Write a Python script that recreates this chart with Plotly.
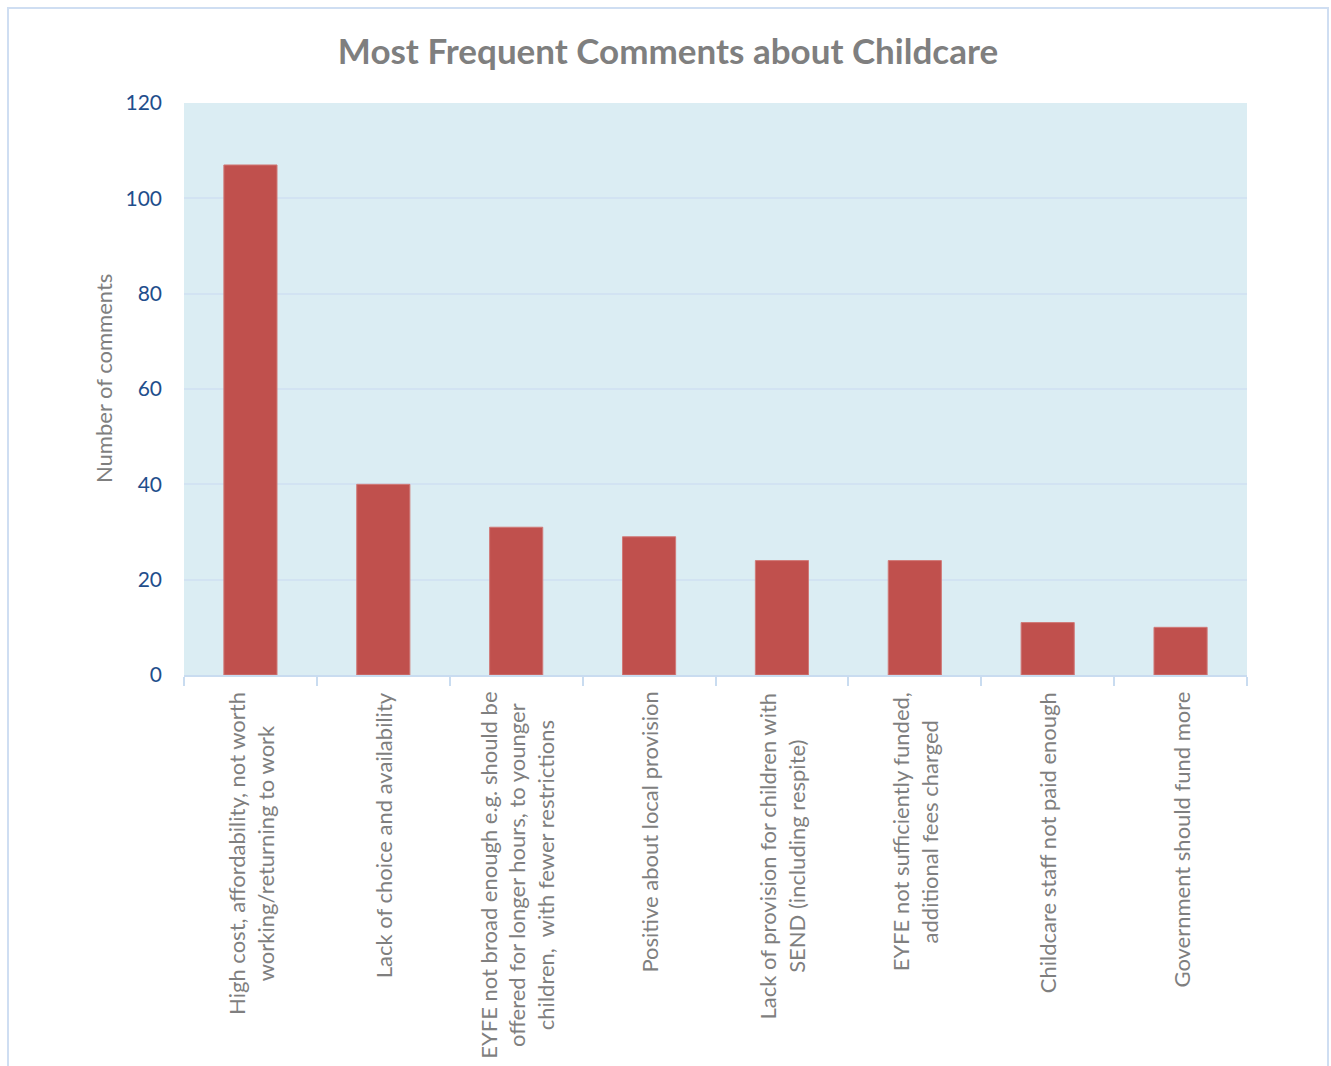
import plotly.graph_objects as go

categories = [
    "High cost, affordability, not worth<br>working/returning to work",
    "Lack of choice and availability",
    "EYFE not broad enough e.g. should be<br>offered for longer hours, to younger<br>children,  with fewer restrictions",
    "Positive about local provision",
    "Lack of provision for children with<br>SEND (including respite)",
    "EYFE not sufficiently funded,<br>additional fees charged",
    "Childcare staff not paid enough",
    "Government should fund more",
]
values = [107, 40, 31, 29, 24, 24, 11, 10]
y_ticks = [0, 20, 40, 60, 80, 100, 120]

title_text = "Most Frequent Comments about Childcare"
y_title = "Number of comments"

FONT = "Lato"
W, H = 1331, 1066
# plot area in page pixels: x 184..1247, y 103..675
L, T = 184, 103
pw, ph = 1247 - 184, 675 - 103
R, B = W - L - pw, H - T - ph

fig = go.Figure()
fig.add_trace(go.Bar(
    x=list(range(len(categories))),
    y=values,
    marker=dict(color="#C0504D", line=dict(color="#D07A78", width=1)),
    width=0.4,
    hoverinfo="y",
))

annotations = []
for i, c in enumerate(categories):
    annotations.append(dict(
        x=i, y=0, xref="x", yref="paper", yanchor="top", xanchor="center",
        yshift=-15, text=c, showarrow=False, textangle=-90, align="center",
        font=dict(family=FONT, size=22, color="#7F7F7F"),
    ))

def px_to_paper_x(px):
    return (px - L) / pw

def px_to_paper_y(py):
    return (H - B - py) / ph

annotations.append(dict(
    x=px_to_paper_x(103), y=px_to_paper_y(379), xref="paper", yref="paper",
    xanchor="center", yanchor="middle", text=y_title, showarrow=False, textangle=-90,
    font=dict(family=FONT, size=22, color="#7F7F7F"),
))

fig.update_layout(
    width=W, height=H,
    margin=dict(l=L, r=R, t=T, b=B),
    paper_bgcolor="white",
    plot_bgcolor="#DBEDF3",
    showlegend=False,
    bargap=0.6,
    title=dict(text=f"<b>{title_text}</b>", x=668 / W,
               xanchor="center", y=1 - 52 / H, yanchor="middle",
               font=dict(family=FONT, size=35, color="#7F7F7F")),
    xaxis=dict(
        range=[-0.5, len(categories) - 0.5],
        tickvals=[i + 0.5 for i in range(-1, len(categories))],
        showticklabels=False, ticks="outside", ticklen=9, tickcolor="#C9DCF0", tickwidth=2,
        showline=True, linecolor="#C9DCF0", linewidth=2,
        showgrid=False, zeroline=False, fixedrange=True,
    ),
    yaxis=dict(
        range=[0, 120], tickvals=y_ticks, ticktext=[str(v) for v in y_ticks],
        showgrid=True, gridcolor="#D2E3F2", gridwidth=2,
        zeroline=False, showline=False,
        tickfont=dict(family=FONT, size=21, color="#1F4E8C"),
        ticklabelstandoff=21,
    ),
    annotations=annotations,
    shapes=[dict(
        type="rect", xref="paper", yref="paper",
        x0=px_to_paper_x(8), x1=px_to_paper_x(1328),
        y0=px_to_paper_y(1090), y1=px_to_paper_y(8),
        line=dict(color="#CFDEF2", width=2), fillcolor="rgba(0,0,0,0)", layer="below",
    )],
)

fig.write_html(
    "out.html",
    config={"displayModeBar": False},
    post_script="document.body.style.margin='0';document.body.style.overflow='hidden';",
)
